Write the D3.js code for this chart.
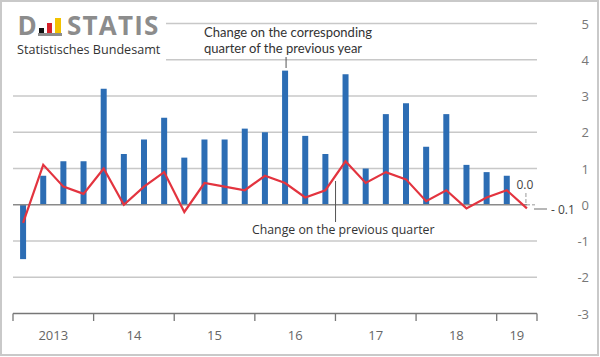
<!DOCTYPE html>
<html><head><meta charset="utf-8">
<script src="https://cdn.jsdelivr.net/npm/d3@7"></script>
<style>
body{margin:0;background:#fff;}
svg{display:block;font-family:"Open Sans","Noto Sans",sans-serif;}
</style></head><body>
<svg id="c" width="600" height="357"></svg>
<script>
const quarters = ["2013Q1","2013Q2","2013Q3","2013Q4","2014Q1","2014Q2","2014Q3","2014Q4","2015Q1","2015Q2","2015Q3","2015Q4","2016Q1","2016Q2","2016Q3","2016Q4","2017Q1","2017Q2","2017Q3","2017Q4","2018Q1","2018Q2","2018Q3","2018Q4","2019Q1","2019Q2"];
const yearOnYear = [-1.5,0.8,1.2,1.2,3.2,1.4,1.8,2.4,1.3,1.8,1.8,2.1,2.0,3.7,1.9,1.4,3.6,1.0,2.5,2.8,1.6,2.5,1.1,0.9,0.8,0.0];
const quarterOnQuarter = [-0.5,1.1,0.5,0.3,1.0,0.0,0.5,0.9,-0.2,0.6,0.5,0.4,0.8,0.6,0.2,0.4,1.2,0.6,0.9,0.7,0.1,0.4,-0.1,0.2,0.4,-0.1];
const years = ["2013","14","15","16","17","18","19"];
const yTicks = [5,4,3,2,1,0,-1,-2,-3];

const svg = d3.select("#c");
// frame
svg.append("rect").attr("x",1).attr("y",1).attr("width",597).attr("height",354)
  .attr("fill","none").attr("stroke","#c9c9c9").attr("stroke-width",2);

const x = d3.scaleBand().domain(quarters).range([13,537]);
const y = d3.scaleLinear().domain([-3,5]).range([313.5,23.5]);

// gridlines
yTicks.filter(t=>t!==0 && t!==-3).forEach(t=>{
  svg.append("line").attr("x1", t>=4 ? 166 : 13).attr("x2",537)
    .attr("y1",y(t)).attr("y2",y(t)).attr("stroke","#c8c8c8").attr("stroke-width",1.3);
});

// y labels
svg.append("g").selectAll("text").data(yTicks).join("text")
  .attr("x",589).attr("y",d=>y(d)+5).attr("text-anchor","end")
  .attr("font-size",13).attr("fill","#777")
  .text(d=>d<0? "-"+Math.abs(d) : d);

// bars
const bw = 6;
svg.append("g").selectAll("rect").data(yearOnYear).join("rect")
  .attr("x",(d,i)=>x(quarters[i])+x.bandwidth()/2-bw/2)
  .attr("width",bw)
  .attr("y",d=>y(Math.max(0,d)))
  .attr("height",d=>Math.abs(y(d)-y(0)))
  .attr("fill","#2c6db4");

// zero line
svg.append("line").attr("x1",13).attr("x2",527).attr("y1",y(0)).attr("y2",y(0))
  .attr("stroke","#8a8a8a").attr("stroke-width",1.3);
svg.append("line").attr("x1",527).attr("x2",537).attr("y1",y(0)).attr("y2",y(0))
  .attr("stroke","#bbb").attr("stroke-width",1.3).attr("stroke-dasharray","3,2");

// line
const line = d3.line().x((d,i)=>x(quarters[i])+x.bandwidth()/2).y(d=>y(d));
svg.append("path").datum(quarterOnQuarter).attr("d",line)
  .attr("fill","none").attr("stroke","#e3343f").attr("stroke-width",2.2).attr("stroke-linejoin","miter");

// bottom axis
const yearX = d3.scaleLinear().domain([0,26]).range([13,537]);
svg.append("line").attr("x1",13).attr("x2",537).attr("y1",313.5).attr("y2",313.5)
  .attr("stroke","#777").attr("stroke-width",1.3);
[0,4,8,12,16,20,24,26].forEach(q=>{
  svg.append("line").attr("x1",yearX(q)).attr("x2",yearX(q)).attr("y1",313.5).attr("y2",321)
    .attr("stroke","#777").attr("stroke-width",1.3);
});
svg.append("g").selectAll("text").data(years).join("text")
  .attr("x",(d,i)=> i<6 ? yearX(i*4+2) : yearX(25))
  .attr("y",340).attr("text-anchor","middle")
  .attr("font-size",13).attr("fill","#666").text(d=>d);

// annotations
const last = quarters.length-1;
const lx = x(quarters[last])+x.bandwidth()/2;
svg.append("text").attr("x",lx-2).attr("y",189).attr("text-anchor","middle")
  .attr("font-size",12).attr("fill","#444").text(yearOnYear[last].toFixed(1));
svg.append("line").attr("x1",lx-1).attr("x2",lx-1).attr("y1",193).attr("y2",203)
  .attr("stroke","#999").attr("stroke-width",1).attr("stroke-dasharray","4,2");
svg.append("line").attr("x1",534).attr("x2",547).attr("y1",209).attr("y2",209)
  .attr("stroke","#888").attr("stroke-width",1.2);
svg.append("text").attr("x",551).attr("y",213.5).attr("font-size",12).attr("fill","#444")
  .text("- " + Math.abs(quarterOnQuarter[last]).toFixed(1));

svg.append("text").attr("x",204).attr("y",37.2).attr("font-size",13).attr("fill","#333")
  .attr("font-family","Lato, 'Open Sans', sans-serif").text("Change on the corresponding");
svg.append("text").attr("x",204).attr("y",52.8).attr("font-size",13).attr("fill","#333")
  .attr("font-family","Lato, 'Open Sans', sans-serif").text("quarter of the previous year");
const px = x(quarters[13])+x.bandwidth()/2+1;
svg.append("line").attr("x1",px).attr("x2",px).attr("y1",57).attr("y2",68)
  .attr("stroke","#555").attr("stroke-width",1);

const qx = x(quarters[16])+x.bandwidth()/2-10;
svg.append("line").attr("x1",qx).attr("x2",qx).attr("y1",181).attr("y2",222)
  .attr("stroke","#555").attr("stroke-width",1);
svg.append("text").attr("x",252).attr("y",233.5).attr("font-size",12.3).attr("fill","#333")
  .text("Change on the previous quarter");

// logo
const logo = svg.append("g");
logo.append("rect").attr("x",4).attr("y",6).attr("width",160).attr("height",56).attr("fill","#fff");
logo.append("text").attr("x",17.5).attr("y",34.5).attr("font-size",26).attr("font-weight",700)
  .attr("fill","#8c8c8c").text("D");
logo.append("text").attr("x",67).attr("y",34.5).attr("font-size",26).attr("font-weight",700)
  .attr("fill","#8c8c8c").attr("letter-spacing",1.2).text("STATIS");
logo.append("rect").attr("x",39).attr("y",28).attr("width",5).attr("height",6).attr("fill","#111");
logo.append("rect").attr("x",47).attr("y",23).attr("width",5).attr("height",11).attr("fill","#d5202a");
logo.append("rect").attr("x",55).attr("y",18).attr("width",6).attr("height",16).attr("fill","#f2c200");
logo.append("rect").attr("x",38).attr("y",33).attr("width",24).attr("height",3).attr("fill","#8c8c8c");
logo.append("text").attr("x",17).attr("y",54).attr("font-size",12.6).attr("fill","#333")
  .text("Statistisches Bundesamt");
</script>
</body></html>
